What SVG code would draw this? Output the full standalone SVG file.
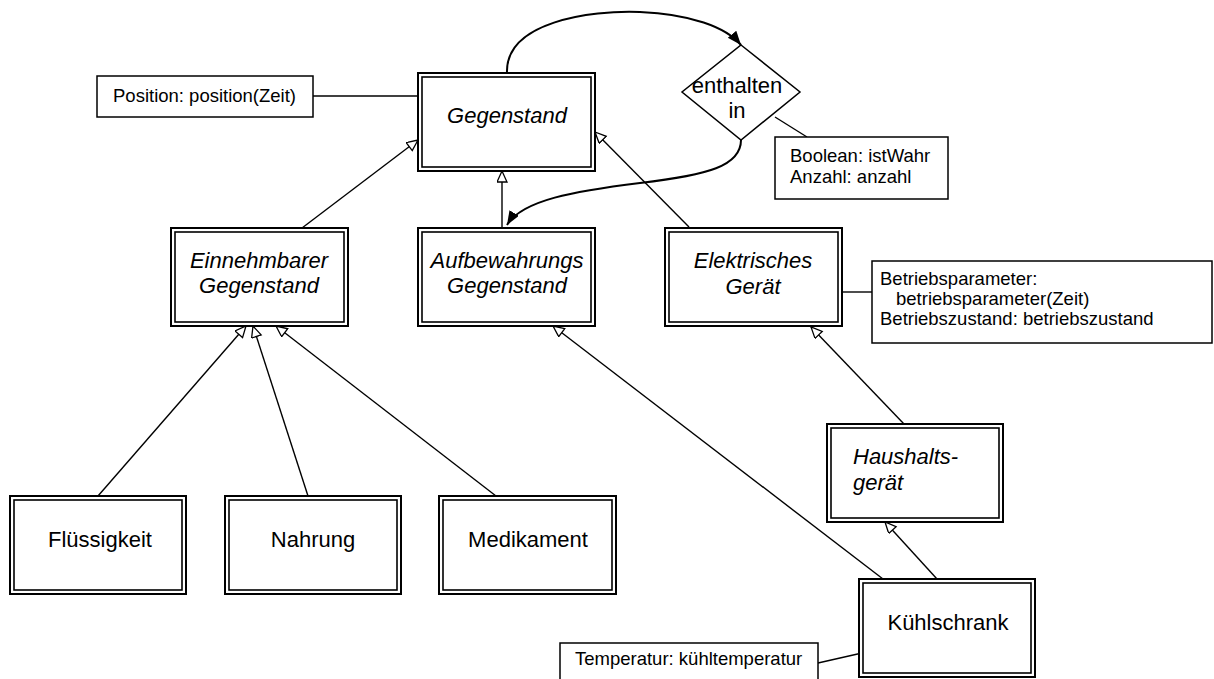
<svg xmlns="http://www.w3.org/2000/svg" width="1214" height="679" viewBox="0 0 1214 679">
<style>
.o{fill:#fff;stroke:#000;stroke-width:2}
.i{fill:none;stroke:#000;stroke-width:1.6}
.n{font-family:"Liberation Sans",Arial,sans-serif;font-size:22px;fill:#000}
.it{font-style:italic}
.a{fill:#fff;stroke:#000;stroke-width:1.5}
.t{font-family:"Liberation Sans",Arial,sans-serif;font-size:18.5px;fill:#000}
.c{fill:none;stroke:#000;stroke-width:1.4}
.cv{fill:none;stroke:#000;stroke-width:2}
</style>
<defs>
<marker id="gen" markerUnits="userSpaceOnUse" markerWidth="14" markerHeight="12" refX="12" refY="5" orient="auto">
<path d="M1,0 L12,5 L1,10 z" fill="#fff" stroke="#000" stroke-width="1.3"/>
</marker>
<marker id="arr" markerUnits="userSpaceOnUse" markerWidth="16" markerHeight="12" refX="14" refY="5.5" orient="auto">
<path d="M0,0 L14,5.5 L0,11 z" fill="#000"/>
</marker>
</defs>
<rect width="1214" height="679" fill="#fff"/>
<g id="connectors">
<line class="c" x1="313" y1="96" x2="419" y2="96"/>
<line class="c" x1="302" y1="228" x2="418" y2="140" marker-end="url(#gen)"/>
<line class="c" x1="502" y1="228" x2="502" y2="171" marker-end="url(#gen)"/>
<line class="c" x1="689" y1="227" x2="595" y2="132" marker-end="url(#gen)"/>
<line class="c" x1="843" y1="292" x2="872" y2="292"/>
<line class="c" x1="775" y1="117" x2="807" y2="137"/>
<line class="c" x1="98" y1="496" x2="246" y2="326" marker-end="url(#gen)"/>
<line class="c" x1="308" y1="496" x2="253" y2="326" marker-end="url(#gen)"/>
<line class="c" x1="496" y1="496" x2="276" y2="326" marker-end="url(#gen)"/>
<line class="c" x1="883" y1="579" x2="553" y2="326" marker-end="url(#gen)"/>
<line class="c" x1="904" y1="424" x2="811" y2="327" marker-end="url(#gen)"/>
<line class="c" x1="937" y1="579" x2="885" y2="522" marker-end="url(#gen)"/>
<line class="c" x1="818" y1="663" x2="862" y2="653"/>
<path class="cv" d="M507,73 C505,22 590,10 640,12 C690,14 726,27 741,45" marker-end="url(#arr)"/>
<path class="cv" d="M741,140 C741,166 708,175 640,183 C575,191 522,200 507,225" marker-end="url(#arr)"/>
</g>
<g id="note-position">
<rect class="a" x="97" y="76" width="216" height="41"/>
<text class="t" x="113" y="102">Position: position(Zeit)</text>
</g>
<g id="gegenstand">
<rect class="o" x="418" y="73" width="177" height="98"/>
<rect class="i" x="422" y="77" width="169" height="90"/>
<text class="n it" x="507" y="123" text-anchor="middle">Gegenstand</text>
</g>
<g id="enthalten-in">
<polygon points="741,45 800,92 741,140 682,92" fill="#fff" stroke="#000" stroke-width="1.5"/>
<text class="n" x="737" y="93" text-anchor="middle">enthalten</text>
<text class="n" x="737" y="118" text-anchor="middle">in</text>
</g>
<g id="note-enthalten">
<rect class="a" x="775" y="137" width="173" height="62"/>
<text class="t" x="790" y="162">Boolean: istWahr</text>
<text class="t" x="790" y="183">Anzahl: anzahl</text>
</g>
<g id="einnehmbarer">
<rect class="o" x="171" y="228" width="177" height="98"/>
<rect class="i" x="175" y="232" width="169" height="90"/>
<text class="n it" x="259" y="268" text-anchor="middle">Einnehmbarer</text>
<text class="n it" x="259" y="293" text-anchor="middle">Gegenstand</text>
</g>
<g id="aufbewahrung">
<rect class="o" x="418" y="228" width="177" height="98"/>
<rect class="i" x="422" y="232" width="169" height="90"/>
<text class="n it" x="507" y="268" text-anchor="middle">Aufbewahrungs</text>
<text class="n it" x="507" y="293" text-anchor="middle">Gegenstand</text>
</g>
<g id="elektrisch">
<rect class="o" x="665" y="228" width="177" height="98"/>
<rect class="i" x="669" y="232" width="169" height="90"/>
<text class="n it" x="753" y="268" text-anchor="middle">Elektrisches</text>
<text class="n it" x="753" y="294" text-anchor="middle">Gerät</text>
</g>
<g id="note-betrieb">
<rect class="a" x="872" y="261" width="340" height="82"/>
<text class="t" x="880" y="285">Betriebsparameter:</text>
<text class="t" x="896" y="305">betriebsparameter(Zeit)</text>
<text class="t" x="880" y="325">Betriebszustand: betriebszustand</text>
</g>
<g id="fluessigkeit">
<rect class="o" x="10" y="496" width="176" height="98"/>
<rect class="i" x="14" y="500" width="168" height="90"/>
<text class="n" x="100" y="547" text-anchor="middle">Flüssigkeit</text>
</g>
<g id="nahrung">
<rect class="o" x="225" y="496" width="176" height="98"/>
<rect class="i" x="229" y="500" width="168" height="90"/>
<text class="n" x="313" y="547" text-anchor="middle">Nahrung</text>
</g>
<g id="medikament">
<rect class="o" x="439" y="496" width="177" height="98"/>
<rect class="i" x="443" y="500" width="169" height="90"/>
<text class="n" x="528" y="547" text-anchor="middle">Medikament</text>
</g>
<g id="haushalt">
<rect class="o" x="827" y="424" width="176" height="98"/>
<rect class="i" x="831" y="428" width="168" height="90"/>
<text class="n it" x="853" y="464">Haushalts-</text>
<text class="n it" x="853" y="490">gerät</text>
</g>
<g id="kuehlschrank">
<rect class="o" x="859" y="579" width="176" height="98"/>
<rect class="i" x="863" y="583" width="168" height="90"/>
<text class="n" x="948" y="630" text-anchor="middle">Kühlschrank</text>
</g>
<g id="note-temperatur">
<rect class="a" x="560" y="643" width="258" height="44"/>
<text class="t" x="575" y="665">Temperatur: kühltemperatur</text>
</g>
</svg>
